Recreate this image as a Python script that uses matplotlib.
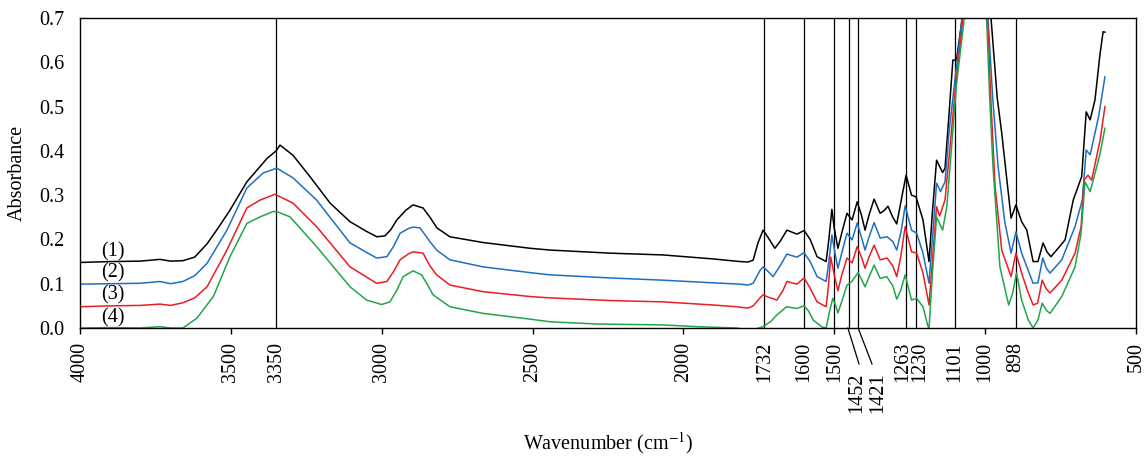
import matplotlib
matplotlib.use("Agg")
import matplotlib.pyplot as plt

# Spectres FTIR (nombre d'onde en cm-1, absorbance)
wn_1 = [4000, 3900, 3800, 3735, 3700, 3659, 3620, 3579, 3540, 3503, 3447, 3380, 3350, 3337, 3294, 3238,
        3171, 3105, 3050, 3016, 2989, 2970, 2950, 2920, 2896, 2863, 2840, 2817, 2774, 2664, 2508, 2442,
        2243, 2068, 1902, 1812, 1786, 1769, 1753, 1736, 1720, 1697, 1680, 1657, 1624, 1600, 1580, 1557,
        1527, 1518, 1508, 1500, 1488, 1475, 1458, 1441, 1424, 1410, 1398, 1385, 1368, 1348, 1335, 1322,
        1306, 1293, 1275, 1262, 1244, 1229, 1206, 1186, 1175, 1161, 1141, 1133, 1120, 1107, 1095, 1078,
        1060, 1030, 1000, 980, 960, 945, 914, 898, 879, 862, 841, 825, 808, 795, 782, 763, 735, 708,
        680, 665, 652, 636, 619, 609, 603]
abs_1 = [0.148, 0.150, 0.151, 0.155, 0.151, 0.152, 0.160, 0.190, 0.228, 0.266, 0.330, 0.383, 0.400, 0.413, 0.390, 0.342,
         0.282, 0.240, 0.218, 0.206, 0.208, 0.222, 0.244, 0.266, 0.278, 0.271, 0.250, 0.226, 0.206, 0.193, 0.180, 0.176,
         0.169, 0.165, 0.156, 0.150, 0.149, 0.153, 0.192, 0.221, 0.205, 0.180, 0.195, 0.221, 0.212, 0.220, 0.200, 0.161,
         0.150, 0.200, 0.268, 0.225, 0.180, 0.215, 0.259, 0.244, 0.285, 0.255, 0.221, 0.255, 0.291, 0.259, 0.265, 0.275,
         0.250, 0.235, 0.300, 0.345, 0.300, 0.296, 0.244, 0.150, 0.260, 0.379, 0.351, 0.361, 0.480, 0.605, 0.605, 0.690,
         0.900, 1.100, 0.900, 0.695, 0.520, 0.440, 0.248, 0.278, 0.240, 0.221, 0.150, 0.150, 0.192, 0.172, 0.161, 0.176, 0.199, 0.289,
         0.342, 0.488, 0.470, 0.515, 0.620, 0.669, 0.668]

wn_2 = [4000, 3900, 3800, 3735, 3700, 3659, 3620, 3579, 3513, 3447, 3393, 3348, 3294, 3216, 3105, 3017,
        2983, 2960, 2939, 2910, 2896, 2873, 2840, 2818, 2774, 2664, 2508, 2442, 2243, 2068, 1902, 1812,
        1786, 1769, 1746, 1736, 1720, 1703, 1680, 1657, 1624, 1600, 1580, 1557, 1527, 1518, 1508, 1498,
        1488, 1475, 1458, 1441, 1424, 1410, 1398, 1385, 1368, 1348, 1325, 1306, 1293, 1278, 1265, 1244,
        1227, 1206, 1186, 1175, 1161, 1148, 1133, 1120, 1100, 1078, 1060, 1030, 1005, 990, 975, 957,
        935, 914, 898, 879, 860, 841, 825, 809, 797, 785, 746, 702, 678, 665, 652, 624, 603]
abs_2 = [0.099, 0.100, 0.101, 0.105, 0.100, 0.105, 0.118, 0.146, 0.221, 0.316, 0.350, 0.361, 0.339, 0.289, 0.192, 0.158,
         0.161, 0.185, 0.214, 0.225, 0.228, 0.226, 0.195, 0.176, 0.154, 0.138, 0.125, 0.120, 0.113, 0.108, 0.102, 0.099,
         0.097, 0.101, 0.130, 0.138, 0.128, 0.116, 0.140, 0.167, 0.160, 0.170, 0.150, 0.116, 0.105, 0.150, 0.210, 0.170,
         0.135, 0.170, 0.214, 0.199, 0.237, 0.205, 0.176, 0.205, 0.238, 0.203, 0.206, 0.195, 0.176, 0.220, 0.276, 0.221,
         0.214, 0.169, 0.101, 0.200, 0.327, 0.308, 0.330, 0.440, 0.560, 0.690, 0.900, 1.050, 0.850, 0.695, 0.520, 0.364,
         0.240, 0.169, 0.217, 0.169, 0.135, 0.101, 0.102, 0.158, 0.135, 0.124, 0.154, 0.229, 0.289, 0.402, 0.391, 0.477, 0.567]

wn_3 = [4000, 3900, 3800, 3735, 3700, 3659, 3620, 3579, 3513, 3447, 3403, 3354, 3294, 3216, 3105, 3017,
        2983, 2960, 2939, 2910, 2896, 2863, 2840, 2818, 2774, 2664, 2508, 2442, 2243, 2068, 1902, 1824,
        1800, 1786, 1769, 1746, 1736, 1720, 1690, 1670, 1657, 1624, 1600, 1580, 1557, 1527, 1520, 1512,
        1500, 1488, 1475, 1458, 1441, 1424, 1410, 1398, 1385, 1368, 1348, 1325, 1306, 1293, 1280, 1265,
        1244, 1227, 1206, 1186, 1175, 1161, 1151, 1133, 1115, 1100, 1075, 1060, 1030, 1005, 991, 980,
        967, 945, 914, 898, 879, 860, 841, 826, 811, 797, 785, 746, 702, 682, 672, 659, 647, 619, 603]
abs_3 = [0.048, 0.050, 0.051, 0.054, 0.051, 0.057, 0.068, 0.093, 0.176, 0.271, 0.289, 0.302, 0.282, 0.229, 0.138, 0.101,
         0.105, 0.128, 0.154, 0.168, 0.172, 0.169, 0.140, 0.120, 0.097, 0.082, 0.071, 0.068, 0.062, 0.059, 0.052, 0.048,
         0.046, 0.045, 0.050, 0.068, 0.075, 0.070, 0.063, 0.085, 0.105, 0.099, 0.113, 0.090, 0.059, 0.048, 0.090, 0.160,
         0.120, 0.084, 0.120, 0.158, 0.147, 0.184, 0.160, 0.135, 0.160, 0.187, 0.154, 0.158, 0.140, 0.116, 0.160, 0.229,
         0.172, 0.169, 0.124, 0.052, 0.150, 0.274, 0.253, 0.289, 0.420, 0.530, 0.690, 0.900, 1.050, 0.850, 0.677, 0.500,
         0.319, 0.176, 0.116, 0.169, 0.124, 0.085, 0.052, 0.056, 0.108, 0.088, 0.079, 0.108, 0.169, 0.229, 0.334, 0.345, 0.334, 0.424, 0.500]

wn_4 = [4000, 3900, 3800, 3735, 3700, 3659, 3613, 3558, 3503, 3447, 3403, 3360, 3348, 3304, 3216, 3105,
        3050, 3000, 2973, 2950, 2929, 2896, 2868, 2850, 2830, 2774, 2664, 2508, 2442, 2287, 2068, 1956,
        1824, 1790, 1769, 1736, 1710, 1691, 1658, 1625, 1600, 1585, 1570, 1540, 1527, 1515, 1505, 1495,
        1488, 1475, 1458, 1442, 1421, 1410, 1398, 1385, 1368, 1348, 1326, 1306, 1293, 1280, 1265, 1244,
        1227, 1206, 1190, 1186, 1175, 1161, 1141, 1127, 1110, 1095, 1071, 1060, 1030, 1005, 995, 985,
        974, 951, 922, 909, 896, 879, 857, 841, 825, 811, 797, 785, 746, 702, 682, 669, 652, 636, 619, 603]
abs_4 = [0.000, 0.001, 0.000, 0.003, 0.000, 0.000, 0.022, 0.071, 0.161, 0.236, 0.251, 0.263, 0.263, 0.251, 0.184, 0.093,
         0.063, 0.053, 0.059, 0.085, 0.116, 0.129, 0.120, 0.100, 0.075, 0.048, 0.033, 0.020, 0.014, 0.009, 0.007, 0.003,
         0.000, -0.004, -0.004, 0.003, 0.015, 0.029, 0.048, 0.044, 0.050, 0.038, 0.018, 0.002, 0.000, 0.040, 0.067, 0.050,
         0.034, 0.060, 0.097, 0.105, 0.125, 0.110, 0.093, 0.115, 0.142, 0.112, 0.116, 0.095, 0.065, 0.085, 0.120, 0.063,
         0.067, 0.048, 0.005, -0.001, 0.120, 0.251, 0.221, 0.274, 0.420, 0.550, 0.688, 0.800, 1.000, 0.850, 0.695, 0.520,
         0.364, 0.138, 0.052, 0.078, 0.124, 0.063, 0.018, 0.000, 0.018, 0.056, 0.040, 0.033, 0.071, 0.138, 0.214, 0.330, 0.308, 0.349, 0.394, 0.451]

couleurs = ["black", "#1f6fc1", "#ec1c24", "#22a548"]
etiquettes = ["(1)", "(2)", "(3)", "(4)"]
etiquettes_y = [0.172, 0.124, 0.075, 0.023]

# Bandes marquees
bandes = [3350, 1732, 1600, 1500, 1452, 1421, 1263, 1230, 1101, 898]
ticks_majeurs = [4000, 3500, 3000, 2500, 2000, 1500, 1000, 500]
ticks_bandes = [3350, 1732, 1600, 1101, 898]

police = "Liberation Serif"
taille = 14.5
plt.rcParams["font.family"] = police
plt.rcParams["mathtext.fontset"] = "stix"

fig = plt.figure(figsize=(11.46, 4.57), dpi=100)
ax = fig.add_axes([80 / 1146, 129 / 457, 1056 / 1146, 310 / 457])

for b in bandes:
    ax.axvline(b, color="black", linewidth=0.9, zorder=1)

spectres = [(wn_1, abs_1), (wn_2, abs_2), (wn_3, abs_3), (wn_4, abs_4)]
for (x, y), c in zip(spectres, couleurs):
    ax.plot(x, y, color=c, linewidth=1.1, zorder=2)

for txt, yy in zip(etiquettes, etiquettes_y):
    ax.text(3890, yy, txt, fontsize=taille, ha="center", va="center")

ax.set_xlim(4000, 500)
ax.set_ylim(0, 0.7)
ax.set_yticks([0.0, 0.1, 0.2, 0.3, 0.4, 0.5, 0.6, 0.7])
ax.set_yticklabels(["0.0", "0.1", "0.2", "0.3", "0.4", "0.5", "0.6", "0.7"])
ax.tick_params(axis="y", length=0, pad=11, labelsize=taille)

ax.set_xticks(ticks_majeurs)
ax.set_xticklabels([str(t) for t in ticks_majeurs], rotation=90)
ax.set_xticks(ticks_bandes, minor=True)
ax.set_xticklabels([str(t) for t in ticks_bandes], minor=True, rotation=90)
ax.tick_params(axis="x", which="major", direction="out", length=4, width=1, pad=6, labelsize=taille)
ax.tick_params(axis="x", which="minor", length=0, pad=10, labelsize=taille)

trans = ax.get_xaxis_transform()

# 1263 et 1230 ecartes un peu pour ne pas se chevaucher
for lab, x_txt in [("1263", 1274), ("1230", 1216)]:
    ax.text(x_txt, -0.045, lab, rotation=90, ha="center", va="top", fontsize=taille, transform=trans)

# 1452 et 1421 decales avec un trait de rappel
for b, x_fin in [(1455, 1418), (1421, 1375)]:
    ax.plot([b, x_fin], [0, -0.116], color="black", linewidth=0.9, transform=trans, clip_on=False)
for lab, x_txt in [("1452", 1425), ("1421", 1355)]:
    ax.text(x_txt, -0.145, lab, rotation=90, ha="center", va="top", fontsize=taille, transform=trans)

for s in ax.spines.values():
    s.set_linewidth(1.0)

ax.set_ylabel("Absorbance", fontsize=taille)
ax.yaxis.set_label_coords(-0.05, 0.5)
ax.set_xlabel("Wavenumber (cm$^{-1}$)", fontsize=taille)
ax.xaxis.set_label_coords(0.5, -0.33)

fig.savefig("out.png", dpi=100)
